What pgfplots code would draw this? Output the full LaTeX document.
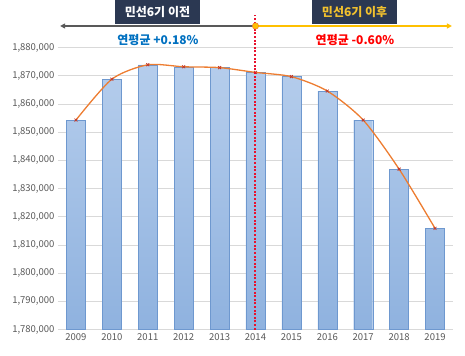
\documentclass[border=0pt]{standalone}
\usepackage{fontspec}
\setmainfont{Noto Sans CJK KR}
\usepackage{pgfplots}
\pgfplotsset{compat=1.18}
\usetikzlibrary{arrows.meta}
\definecolor{boxfill}{HTML}{2B3852}
\definecolor{goldtxt}{HTML}{F2C12E}
\definecolor{arrowgray}{HTML}{595959}
\definecolor{arrowgold}{HTML}{FFC000}
\definecolor{bluetxt}{HTML}{0070C0}
\definecolor{redtxt}{HTML}{FF0000}
\definecolor{divred}{HTML}{E8112D}
\definecolor{lineorange}{HTML}{ED7D31}
\definecolor{markred}{HTML}{C0392B}
\definecolor{bartop}{HTML}{B5CDEC}
\definecolor{barbot}{HTML}{8FB2DF}
\definecolor{baredge}{HTML}{6E98CF}
\definecolor{gridgray}{HTML}{D9D9D9}
\definecolor{ticktxt}{HTML}{595959}
\begin{document}
\begin{tikzpicture}
\begin{axis}[
  scale only axis,
  width=395pt, height=282pt,
  xmin=-0.5, xmax=10.5,
  ymin=1780000, ymax=1880000,
  ytick={1780000,1790000,...,1880000},
  xtick={0,...,10},
  xticklabels={2009,2010,2011,2012,2013,2014,2015,2016,2017,2018,2019},
  scaled y ticks=false,
  yticklabel style={/pgf/number format/.cd, fixed, 1000 sep={,}},
  /pgf/number format/assume math mode=true,
  tick label style={font=\fontsize{9.5}{11}\selectfont, text=ticktxt},
  major tick length=0pt,
  axis line style={draw=none},
  ymajorgrids, grid style={gridgray, line width=0.8pt},
  clip mode=individual,
]
\addplot[ybar, bar width=0.53, draw=baredge, top color=bartop, bottom color=barbot] coordinates {
  (0,1854300) (1,1868800) (2,1873900) (3,1873200) (4,1872900) (5,1871200)
  (6,1869700) (7,1864600) (8,1854300) (9,1836900) (10,1815900)};
\addplot[smooth, tension=0.45, color=lineorange, line width=1.3pt, mark=x, mark size=2pt, mark options={markred, line width=0.8pt}] coordinates {
  (0,1854300) (1,1868800) (2,1873900) (3,1873200) (4,1872900) (5,1871200)
  (6,1869700) (7,1864600) (8,1854300) (9,1836900) (10,1815900)};
% invisible bounding box matching the reference proportions
\path (rel axis cs:-0.1468,-0.0936) rectangle (rel axis cs:1.0304,1.1688);
% vertical dotted divider
\draw[draw=divred, line width=2pt, dash pattern=on 2pt off 1.6pt] (axis cs:5,1780000) -- (axis cs:5,1891560);
% arrows
\draw[arrowgray, line width=1.3pt, -{Triangle[length=5pt,width=5pt]}] (axis cs:5,1887660) -- (axis cs:-0.44,1887660);
\draw[arrowgold, line width=1.3pt, -{Triangle[length=5pt,width=5pt]}] (axis cs:5,1887660) -- (axis cs:10.47,1887660);
\fill[arrowgold, draw=lineorange, line width=0.5pt] (axis cs:5,1887660) circle (3.2pt);
% boxes
\node[fill=boxfill, minimum width=85pt, minimum height=24pt, inner sep=0pt, text=white, font=\fontsize{12}{14}\selectfont\bfseries] at (axis cs:2.27,1892620) {민선6기 이전};
\node[fill=boxfill, minimum width=85pt, minimum height=24pt, inner sep=0pt, text=goldtxt, font=\fontsize{12}{14}\selectfont\bfseries] at (axis cs:7.76,1892620) {민선6기 이후};
% annual averages
\node[text=bluetxt, font=\fontsize{12}{14}\selectfont\bfseries] at (axis cs:2.285,1882700) {연평균 +0.18\%};
\node[text=redtxt, font=\fontsize{12}{14}\selectfont\bfseries] at (axis cs:7.77,1882700) {연평균 -0.60\%};
\end{axis}
\end{tikzpicture}
\end{document}
